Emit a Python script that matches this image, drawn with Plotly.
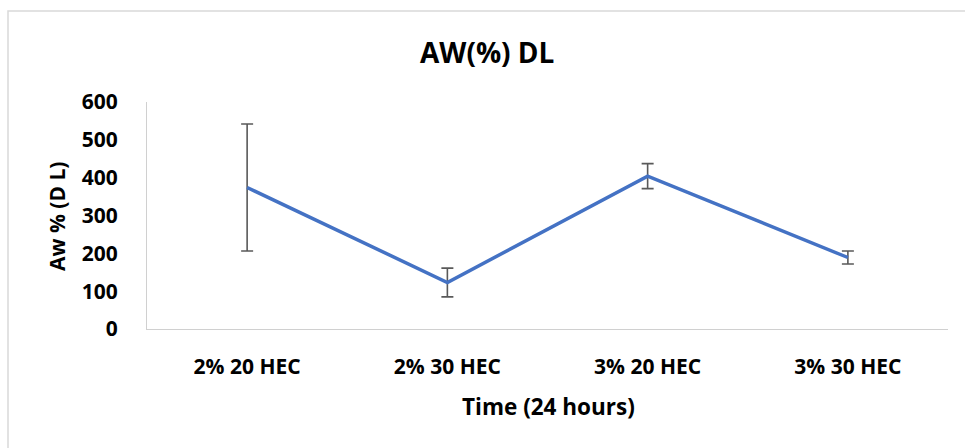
import plotly.graph_objects as go

categories = ["2% 20 HEC", "2% 30 HEC", "3% 20 HEC", "3% 30 HEC"]
values = [374, 123, 404, 189]
errors = [168, 38, 33, 17]
y_ticks = [0, 100, 200, 300, 400, 500, 600]

W, H = 965, 448
L, R, T, B = 147, 17, 101.5, 118.5
pw, ph = W - L - R, H - T - B

def px_x(x):
    return (x - L) / pw

def px_y(y):
    return (H - B - y) / ph

FONT = "Open Sans"

fig = go.Figure()
fig.add_trace(go.Scatter(
    x=list(range(len(categories))), y=values, mode="lines",
    line=dict(color="#4472C4", width=3.5),
    error_y=dict(type="data", array=errors, visible=True,
                 color="#595959", thickness=1.6, width=6),
    showlegend=False,
))

fig.update_layout(
    width=W, height=H,
    margin=dict(l=L, r=R, t=T, b=B, autoexpand=False),
    paper_bgcolor="white", plot_bgcolor="white",
    font=dict(family=FONT, color="black"),
    xaxis=dict(range=[-0.5, 3.5], tickvals=list(range(len(categories))),
               ticktext=categories, showgrid=False, zeroline=False,
               showline=True, linecolor="#d0d0d0", linewidth=1.2,
               ticks="", ticklabelstandoff=19,
               tickfont=dict(family=FONT, size=21, color="black", weight="bold")),
    yaxis=dict(range=[0, 600], tickvals=y_ticks, showgrid=False, zeroline=False,
               showline=True, linecolor="#d0d0d0", linewidth=1.2,
               ticks="", ticklabelstandoff=24,
               tickfont=dict(family=FONT, size=21, color="black", weight="bold")),
    shapes=[dict(type="rect", xref="paper", yref="paper",
                 x0=px_x(8), x1=px_x(1000), y0=px_y(480), y1=px_y(10),
                 line=dict(color="#d9d9d9", width=1.5), fillcolor="rgba(0,0,0,0)",
                 layer="below")],
    annotations=[
        dict(text="<b>AW(%) DL</b>", xref="paper", yref="paper",
             x=px_x(487), y=px_y(51), showarrow=False,
             font=dict(family=FONT, size=28, color="black"),
             xanchor="center", yanchor="middle"),
        dict(text="<b>Time (24 hours)</b>", xref="paper", yref="paper",
             x=px_x(548), y=px_y(407), showarrow=False,
             font=dict(family=FONT, size=22.5, color="black"),
             xanchor="center", yanchor="middle"),
        dict(text="<b>Aw % (D L)</b>", xref="paper", yref="paper",
             x=px_x(57), y=px_y(217), showarrow=False, textangle=-90,
             font=dict(family=FONT, size=21, color="black"),
             xanchor="center", yanchor="middle"),
    ],
)

fig.write_html("out.html", config={"displayModeBar": False},
               post_script="document.body.style.margin='0';")
